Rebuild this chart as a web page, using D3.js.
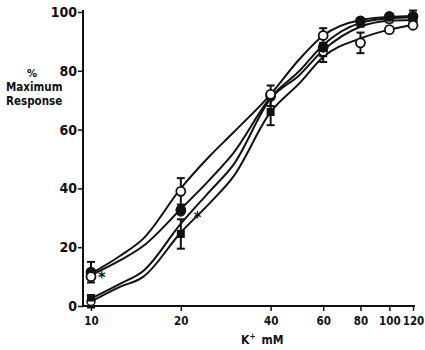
<!DOCTYPE html>
<html>
<head>
<meta charset="utf-8">
<script src="https://cdn.jsdelivr.net/npm/d3@7"></script>
<style>
  body { margin: 0; background: #fff; }
  svg text { font-family: "DejaVu Sans Condensed", "DejaVu Sans", sans-serif; font-stretch: condensed; font-weight: bold; fill: #111; }
</style>
</head>
<body>
<div id="chart"></div>
<script>
// K+ concentrations (mM) where responses were measured
const doses = [10, 20, 40, 60, 80, 100, 120];

// measured responses (% of maximum) for each series
const openCircle   = [10, 39, 72, 92, 89.5, 94, 95.5];
const filledCircle = [11.5, 32.6, 71.5, 88, 97, 98.5, 98.5];
const filledSquare = [2.7, 24.5, 66, 86, 96, 97.5, 98];
const halfCircle   = [1.5, 32, 71, 86.5, 96.5, 97.5, 97];

// error bar half-widths (SEM)
const openErr   = [0, 4.5, 0, 2.5, 3.5, 0, 0];
const filledErr = [3.5, 0, 3.5, 0, 0, 0, 2];
const squareErr = [0, 5, 4.5, 3, 0, 0, 0];
const halfErr   = [2, 0, 0, 0, 0, 0, 0];

// fitted curves
const curveX = [10, 12.5, 15, 20, 25, 30, 40, 50, 60, 80, 100, 120];
const curve1 = [11, 17, 23, 40, 51, 59, 72, 84, 92, 97.3, 98.3, 98.6];
const curve2 = [10.5, 15.5, 20.5, 33, 43, 52, 71, 80, 88.8, 96.3, 97.8, 98.2];
const curve3 = [2.5, 7.5, 12, 28, 39, 48, 70.5, 78.6, 87, 95, 97, 97.3];
const curve4 = [1.5, 6.5, 10, 25, 35, 44, 66, 75.8, 84.7, 91, 94, 95.6];

const xTicks = [10, 20, 40, 60, 80, 100, 120];
const yTicks = [0, 20, 40, 60, 80, 100];

const svg = d3.select("#chart").append("svg")
    .attr("width", 425)
    .attr("height", 350);

const x = d3.scaleLog().domain([10, 120]).range([91, 413]);
const y = d3.scaleLinear().domain([0, 100]).range([306, 12]);

// axes
const xAxis = svg.append("g")
    .attr("transform", "translate(0,306)")
    .call(d3.axisBottom(x).tickValues(xTicks).tickFormat(d3.format("d")).tickSize(5).tickSizeOuter(0));
xAxis.select(".domain").attr("d", "M83,0H415").attr("stroke-width", 2);
xAxis.selectAll(".tick line").attr("stroke-width", 1.5);
xAxis.selectAll(".tick text").attr("font-size", 11.5).attr("dy", "0.95em");

const yAxis = svg.append("g")
    .attr("transform", "translate(83,0)")
    .call(d3.axisLeft(y).tickValues(yTicks).tickSize(5).tickSizeOuter(0));
yAxis.select(".domain").attr("d", "M0,10V306").attr("stroke-width", 2);
yAxis.selectAll(".tick line").attr("stroke-width", 1.5);
yAxis.selectAll(".tick text").attr("font-size", 14).attr("x", -6);
svg.selectAll(".domain, .tick line").attr("stroke", "#111");
svg.selectAll(".tick text")
    .style("font-family", "'DejaVu Sans Condensed', 'DejaVu Sans', sans-serif")
    .style("font-stretch", "condensed")
    .style("font-weight", "bold");

// curves
const line = d3.line()
    .x(d => x(d[0]))
    .y(d => y(d[1]))
    .curve(d3.curveMonotoneX);

[curve1, curve2, curve3, curve4].forEach(c => {
    svg.append("path")
        .datum(curveX.map((d, i) => [d, c[i]]))
        .attr("d", line)
        .attr("fill", "none")
        .attr("stroke", "#111")
        .attr("stroke-width", 2);
});

// series with error bars and markers
const series = [
    { vals: filledSquare, err: squareErr, kind: "square" },
    { vals: halfCircle, err: halfErr, kind: "half" },
    { vals: filledCircle, err: filledErr, kind: "filled" },
    { vals: openCircle, err: openErr, kind: "open" }
];

series.forEach(s => {
    const pts = doses.map((d, i) => ({ x: d, v: s.vals[i], e: s.err[i] }));
    const g = svg.append("g");

    const bars = g.selectAll(".err")
        .data(pts.filter(p => p.e > 0))
        .enter().append("g");
    bars.append("line")
        .attr("x1", d => x(d.x)).attr("x2", d => x(d.x))
        .attr("y1", d => y(d.v - d.e)).attr("y2", d => y(d.v + d.e))
        .attr("stroke", "#111").attr("stroke-width", 2);
    bars.selectAll(".cap")
        .data(d => [d.v - d.e, d.v + d.e].map(v => ({ x: d.x, v: v })))
        .enter().append("line")
        .attr("x1", d => x(d.x) - 4).attr("x2", d => x(d.x) + 4)
        .attr("y1", d => y(d.v)).attr("y2", d => y(d.v))
        .attr("stroke", "#111").attr("stroke-width", 2);

    if (s.kind === "square") {
        g.selectAll(".m").data(pts).enter().append("rect")
            .attr("x", d => x(d.x) - 4).attr("y", d => y(d.v) - 4)
            .attr("width", 8).attr("height", 8)
            .attr("fill", "#111");
    } else if (s.kind === "half") {
        const m = g.selectAll(".m").data(pts).enter().append("g")
            .attr("transform", d => `translate(${x(d.x)},${y(d.v)})`);
        m.append("circle").attr("r", 4).attr("fill", "#fff").attr("stroke", "#111").attr("stroke-width", 1.5);
        m.append("path").attr("d", "M-4,0A4,4 0 0 1 4,0Z").attr("fill", "#111");
    } else {
        g.selectAll(".m").data(pts).enter().append("circle")
            .attr("cx", d => x(d.x)).attr("cy", d => y(d.v))
            .attr("r", 4.5)
            .attr("fill", s.kind === "filled" ? "#111" : "#fff")
            .attr("stroke", "#111").attr("stroke-width", 1.8);
    }
});

// significance marks
const stars = [{ x: 10, v: 10.5, dx: 7 }, { x: 20, v: 31, dx: 13 }];
svg.selectAll(".star").data(stars).enter().append("text")
    .attr("x", d => x(d.x) + d.dx).attr("y", d => y(d.v) + 8)
    .attr("font-size", 16)
    .text("*");

// axis titles
svg.append("text").attr("x", 32).attr("y", 77).attr("text-anchor", "middle").attr("font-size", 11).text("%");
svg.append("text").attr("x", 6).attr("y", 91).attr("font-size", 11.5).text("Maximum");
svg.append("text").attr("x", 6).attr("y", 105).attr("font-size", 11.5).text("Response");

const kLabel = svg.append("text").attr("x", 241).attr("y", 344).attr("font-size", 12);
kLabel.append("tspan").text("K");
kLabel.append("tspan").attr("dy", -5).attr("font-size", 8).text("+");
kLabel.append("tspan").attr("dy", 5).attr("dx", 6).text("mM");
</script>
</body>
</html>
